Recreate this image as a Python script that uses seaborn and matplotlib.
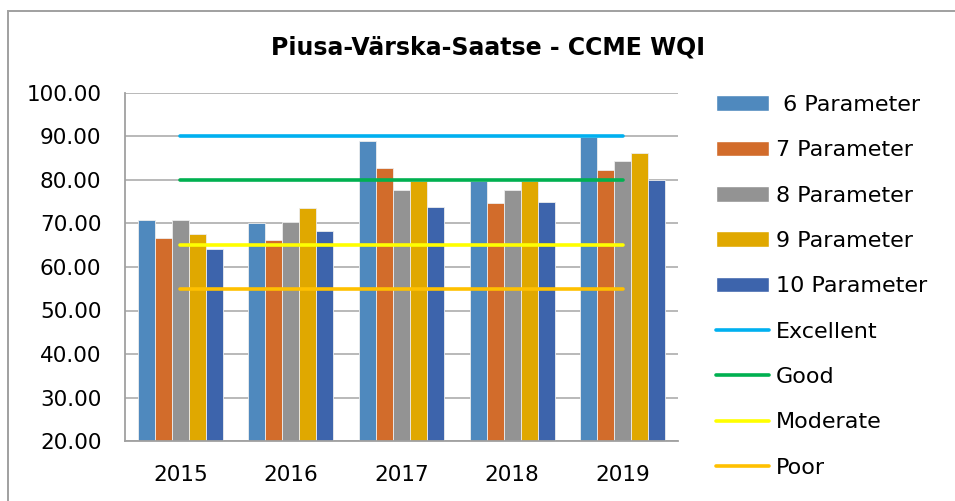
import matplotlib
matplotlib.use("Agg")
import matplotlib.pyplot as plt
import seaborn as sns
import pandas as pd
from matplotlib.patches import Patch, Rectangle
from matplotlib.lines import Line2D

# dados do gráfico
years = ["2015", "2016", "2017", "2018", "2019"]
params = [" 6 Parameter", "7 Parameter", "8 Parameter", "9 Parameter", "10 Parameter"]
p6 = [70.8, 70.0, 88.9, 79.8, 89.9]
p7 = [66.6, 66.1, 82.7, 74.7, 82.3]
p8 = [70.8, 70.4, 77.6, 77.8, 84.4]
p9 = [67.6, 73.6, 79.8, 79.8, 86.2]
p10 = [64.1, 68.2, 73.7, 75.0, 80.0]
bar_colors = ["#4F89BE", "#D26C2B", "#939393", "#E0A800", "#3D64AC"]

levels = ["Excellent", "Good", "Moderate", "Poor"]
level_values = [90, 80, 65, 55]
level_colors = ["#00B0F0", "#00B050", "#FFFF00", "#FFC000"]

# tabela longa para o seaborn
series = [p6, p7, p8, p9, p10]
df = pd.DataFrame({
    "year": [y for s in series for y in years],
    "param": [p for p, s in zip(params, series) for _ in s],
    "value": [v for s in series for v in s],
})

sns.set_style("white")
plt.rcParams["font.family"] = ["DejaVu Sans"]
plt.rcParams["text.color"] = "black"
plt.rcParams["xtick.color"] = "black"
plt.rcParams["ytick.color"] = "black"

fig = plt.figure(figsize=(9.55, 5.01), dpi=100)
ax = fig.add_axes([125 / 955, 60 / 501, 553 / 955, 348 / 501])

# moldura externa
fig.patches.append(Rectangle((7.5 / 955, -0.1), 1.2, 1.1 - 10.5 / 501,
                             transform=fig.transFigure, fill=False,
                             edgecolor="#A0A0A0", linewidth=1.4))

sns.barplot(data=df, x="year", y="value", hue="param", order=years,
            hue_order=params, palette=bar_colors, saturation=1, width=0.77,
            edgecolor="#EDEDED", linewidth=0.6, legend=False, ax=ax)

for name, val, col in zip(levels, level_values, level_colors):
    sns.pointplot(x=years, y=[val] * len(years), color=col, markers="",
                  errorbar=None, linewidth=2.6, solid_capstyle="round", ax=ax)

ax.set_ylim(20, 100)
ax.set_xlim(-0.5, len(years) - 0.5)
ax.set_yticks(range(20, 101, 10))
ax.set_yticklabels([f"{v:.2f}" for v in range(20, 101, 10)])
ax.set_xlabel("")
ax.set_ylabel("")
ax.set_axisbelow(True)
ax.yaxis.grid(True, color="#A6A6A6", linewidth=1.1)
ax.xaxis.grid(False)
ax.tick_params(axis="y", length=0, pad=17, labelsize=15.5, labelcolor="black")
ax.tick_params(axis="x", length=0, pad=17, labelsize=15.5, labelcolor="black")
for side in ["top", "right"]:
    ax.spines[side].set_visible(False)
for side in ["left", "bottom"]:
    ax.spines[side].set_color("#A0A0A0")
    ax.spines[side].set_linewidth(1.3)

fig.text(488 / 955, 1 - 54 / 501, "Piusa-Värska-Saatse - CCME WQI",
         ha="center", va="baseline", fontsize=17, fontweight="bold",
         color="black")

handles = [Patch(facecolor=c) for c in bar_colors]
handles += [Line2D([], [], color=c, linewidth=2.6, solid_capstyle="round")
            for c in level_colors]
leg = fig.legend(handles, params + levels, loc="upper left",
                 bbox_to_anchor=(716 / 955, 1 - 95 / 501), frameon=False,
                 fontsize=16, handlelength=2.4, handletextpad=0.3,
                 labelspacing=1.14, borderpad=0, borderaxespad=0)
for t in leg.get_texts():
    t.set_color("black")

fig.savefig("out.png", dpi=100)
